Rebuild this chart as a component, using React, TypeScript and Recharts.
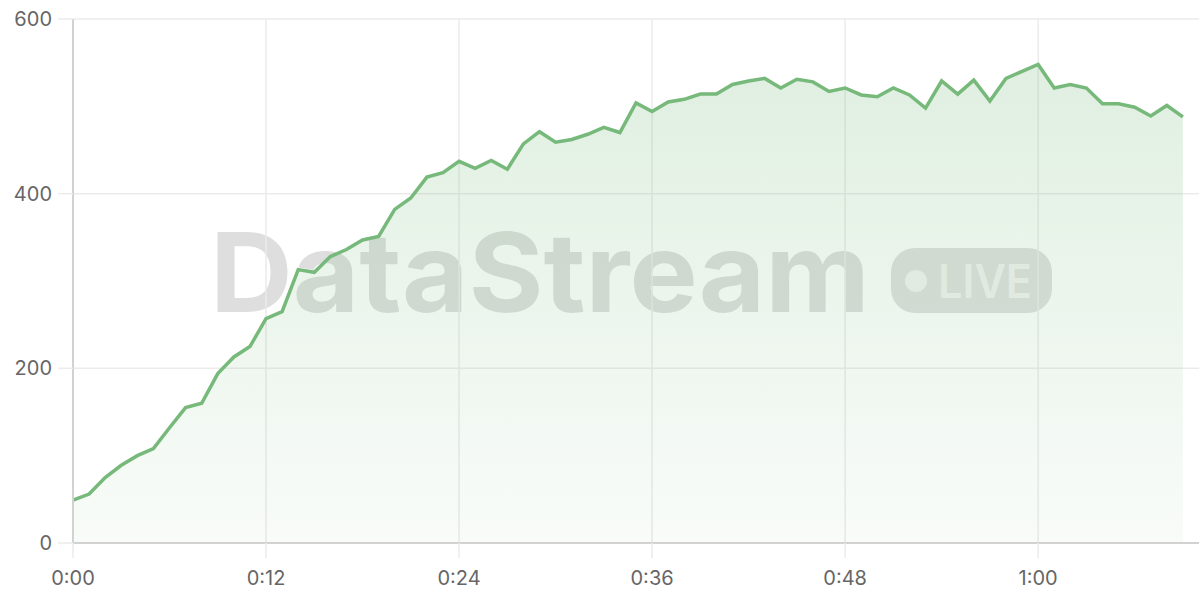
import React from "react";
import {
  AreaChart,
  Area,
  XAxis,
  YAxis,
  CartesianGrid,
} from "recharts";

const seconds: number[] = [
  0, 1, 2, 3, 4, 5, 6, 7, 8, 9, 10, 11, 12, 13, 14, 15, 16, 17, 18, 19, 20, 21, 22, 23, 24,
  25, 26, 27, 28, 29, 30, 31, 32, 33, 34, 35, 36, 37, 38, 39, 40, 41, 42, 43, 44, 45, 46, 47,
  48, 49, 50, 51, 52, 53, 54, 55, 56, 57, 58, 59, 60, 61, 62, 63, 64, 65, 66, 67, 68, 69,
];

const rate: number[] = [
  49, 56, 75, 89, 100, 108, 132, 155, 160, 194, 213, 225, 257, 265, 313, 310, 328, 336, 347,
  351, 382, 395, 419, 424, 437, 429, 438, 428, 457, 471, 459, 462, 468, 476, 470, 504, 494,
  505, 508, 514, 514, 525, 529, 532, 521, 531, 528, 517, 521, 513, 511, 521, 513, 498, 529,
  514, 530, 506, 532, 540, 548, 521, 525, 521, 503, 503, 499, 489, 501, 488,
];

const xTicks: number[] = [0, 12, 24, 36, 48, 60];
const yTicks: number[] = [0, 200, 400, 600];

const data = seconds.map((t, i) => ({ t, v: rate[i] }));

const fmt = (s: number) => `${Math.floor(s / 60)}:${String(s % 60).padStart(2, "0")}`;

const FONT = "Inter, 'Noto Sans', sans-serif";
const GRID = "#ebebeb";
const AXIS = "#d2d2d2";

export default function App() {
  return (
    <div style={{ position: "absolute", left: 0, top: 0, width: 1200, height: 600, background: "#fff" }}>
      <svg
        width={1200}
        height={600}
        style={{ position: "absolute", left: 0, top: 0 }}
      >
        <text
          x={210}
          y={312}
          fontFamily={FONT}
          fontSize={110}
          fontWeight={700}
          textLength={660}
          lengthAdjust="spacingAndGlyphs"
          fill="rgba(0,0,0,0.13)"
        >
          DataStream
        </text>
        <rect x={891} y={248} width={161} height={65} rx={24} fill="rgba(0,0,0,0.12)" />
        <circle cx={916} cy={281} r={11} fill="rgba(255,255,255,0.6)" />
        <text
          x={938}
          y={298}
          fontFamily={FONT}
          fontSize={46}
          fontWeight={600}
          textLength={94}
          lengthAdjust="spacingAndGlyphs"
          fill="rgba(255,255,255,0.6)"
        >
          LIVE
        </text>
      </svg>
      <div style={{ position: "absolute", left: 0, top: 0 }}>
        <AreaChart
          width={1200}
          height={600}
          data={data}
          margin={{ top: 19, right: 1, left: 0, bottom: 0 }}
        >
          <defs>
            <linearGradient id="areaFill" x1="0" y1="0" x2="0" y2="1">
              <stop offset="0%" stopColor="#76b97a" stopOpacity={0.38} />
              <stop offset="100%" stopColor="#76b97a" stopOpacity={0.08} />
            </linearGradient>
          </defs>
          <CartesianGrid stroke={GRID} strokeWidth={1.5} verticalValues={xTicks} horizontalValues={yTicks} />
          <XAxis
            dataKey="t"
            type="number"
            domain={[0, 70]}
            ticks={xTicks}
            tickFormatter={fmt}
            height={57}
            tickSize={15}
            tickMargin={13}
            stroke={AXIS}
            axisLine={{ stroke: AXIS, strokeWidth: 2 }}
            tickLine={{ stroke: GRID, strokeWidth: 1.5 }}
            tick={{ fill: "#666", fontSize: 20, fontFamily: FONT }}
          />
          <YAxis
            domain={[0, 600]}
            ticks={yTicks}
            width={73}
            tickSize={15}
            tickMargin={6}
            axisLine={{ stroke: AXIS, strokeWidth: 2 }}
            tickLine={{ stroke: GRID, strokeWidth: 1.5 }}
            tick={{ fill: "#666", fontSize: 20, fontFamily: FONT }}
          />
          <Area
            type="linear"
            dataKey="v"
            stroke="#76b97a"
            strokeWidth={3.5}
            fill="url(#areaFill)"
            dot={false}
            activeDot={false}
            isAnimationActive={false}
          />
        </AreaChart>
      </div>
    </div>
  );
}
